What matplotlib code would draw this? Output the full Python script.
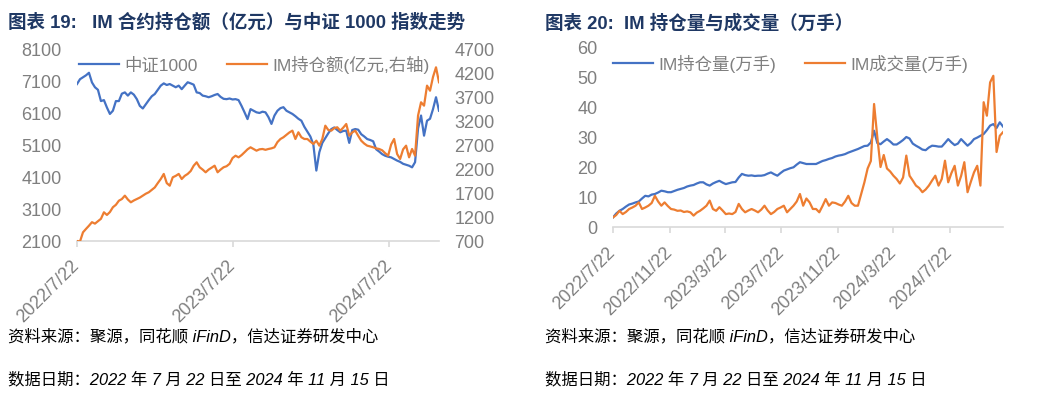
import matplotlib
matplotlib.use("Agg")
import matplotlib.pyplot as plt
import pandas as pd

plt.rcParams['font.family'] = ['Liberation Sans', 'Noto Sans CJK SC', 'DejaVu Sans']

# weekly samples, 2022-07-22 .. 2024-11-15
dates = pd.date_range("2022-07-22", "2024-11-15", freq="7D")

csi1000 = [6980, 7130, 7190, 7250, 7330, 7030, 6880, 6800, 6450, 6480,
           6250, 6050, 6150, 6450, 6450, 6680, 6720, 6620, 6720, 6650,
           6510, 6300, 6220, 6350, 6480, 6600, 6670, 6800, 6930, 7000,
           6950, 6980, 6930, 6880, 6930, 6820, 6930, 7035, 7000, 6960,
           6720, 6700, 6620, 6600, 6570, 6600, 6640, 6670, 6580, 6520,
           6510, 6530, 6500, 6510, 6480, 6300, 6100, 5890, 6200, 6150,
           6100, 6080, 6120, 6100, 5950, 5740, 6000, 6150, 6230, 6260,
           6150, 6100, 6050, 5980, 5900, 5840, 5650, 5500, 5350, 5100,
           4290, 4860, 5150, 5300, 5450, 5580, 5630, 5550, 5480, 5520,
           5530, 5150, 5550, 5580, 5560, 5420, 5350, 5270, 5240, 5200,
           4950, 4880, 4800, 4750, 4720, 4700, 4650, 4600, 4560, 4500,
           4470, 4440, 4390, 4550, 5600, 6000, 5375, 5840, 5900, 6200,
           6570, 6150]

im_oi_value = [700, 690, 880, 950, 1017, 1090, 1060, 1110, 1160, 1295,
               1240, 1300, 1400, 1450, 1535, 1570, 1640, 1560, 1502, 1540,
               1570, 1600, 1640, 1680, 1710, 1760, 1810, 1900, 1985, 2090,
               1900, 1846, 2020, 2050, 2090, 1985, 2050, 2090, 2150, 2260,
               2331, 2228, 2180, 2124, 2180, 2220, 2261, 2124, 2180, 2228,
               2250, 2300, 2420, 2468, 2434, 2480, 2539, 2600, 2642, 2607,
               2572, 2600, 2607, 2590, 2607, 2620, 2642, 2750, 2814, 2850,
               2900, 2950, 2987, 2814, 2953, 2850, 2814, 2814, 2760, 2711,
               2779, 2676, 2814, 3090, 3000, 2987, 3040, 3057, 2987, 3050,
               3125, 2883, 2950, 2987, 2880, 2779, 2720, 2676, 2660, 2642,
               2620, 2607, 2580, 2520, 2468, 2700, 2814, 2503, 2400, 2600,
               2676, 2434, 2607, 2468, 3300, 3575, 3505, 3920, 3815, 4100,
               4300, 3990]

im_oi_lots = [3.2, 4.5, 5.4, 6.0, 6.8, 7.5, 7.8, 8.2, 8.5, 9.5,
              10.4, 10.2, 10.8, 11.0, 11.5, 12.1, 11.9, 11.6, 11.6, 12.0,
              12.4, 12.7, 13.0, 13.5, 13.8, 14.0, 14.5, 14.9, 14.9, 14.2,
              13.8, 14.5, 15.0, 15.4, 14.8, 14.3, 14.6, 14.9, 15.0, 16.5,
              17.7, 17.3, 17.1, 17.2, 17.0, 17.1, 17.1, 17.3, 17.8, 18.2,
              17.6, 17.1, 18.0, 18.8, 19.2, 19.6, 19.9, 20.8, 21.6, 21.3,
              21.0, 21.0, 21.0, 21.0, 21.5, 22.0, 22.3, 22.7, 23.0, 23.5,
              23.8, 24.0, 24.3, 24.8, 25.2, 25.6, 26.0, 26.5, 27.0, 27.1,
              28.2, 32.1, 28.0, 27.6, 28.5, 29.3, 28.5, 27.5, 27.5, 28.2,
              29.0, 30.0, 29.5, 27.8, 27.1, 26.5, 25.8, 25.6, 26.5, 27.1,
              27.0, 26.8, 26.8, 28.0, 29.3, 28.2, 27.3, 27.8, 29.3, 28.2,
              27.1, 28.0, 29.3, 29.8, 30.4, 31.0, 32.3, 33.8, 34.3, 33.0,
              34.9, 33.5]

im_volume = [3.2, 4.0, 5.4, 4.3, 5.0, 6.0, 6.5, 7.1, 8.2, 6.0,
             6.5, 7.1, 8.0, 10.4, 8.5, 7.1, 8.2, 7.0, 6.0, 5.8,
             5.4, 5.5, 5.0, 5.2, 4.9, 3.8, 4.8, 5.4, 6.2, 7.1,
             8.8, 6.0, 5.4, 6.6, 5.5, 4.3, 4.5, 4.3, 5.0, 7.7,
             6.0, 4.9, 5.5, 6.0, 5.5, 4.9, 5.8, 7.1, 5.5, 4.3,
             5.0, 6.0, 6.5, 7.1, 4.9, 6.0, 7.1, 8.5, 11.0, 7.1,
             9.5, 8.2, 6.0, 6.0, 4.9, 7.0, 9.3, 7.1, 8.2, 8.0,
             7.5, 7.1, 8.5, 10.4, 8.0, 7.1, 7.1, 11.0, 14.9, 19.5,
             22.0, 41.0, 30.0, 20.0, 24.0, 19.5, 18.5, 17.1, 16.0, 14.5,
             16.5, 23.8, 17.1, 15.5, 13.8, 13.0, 11.6, 12.5, 13.8, 15.5,
             17.1, 13.8, 16.0, 22.1, 14.9, 18.0, 20.4, 13.8, 17.0, 21.6,
             11.6, 15.0, 18.2, 20.4, 13.8, 41.6, 37.1, 48.2, 50.4, 25.0,
             30.4, 31.6]

left_xticks = ["2022-07-22", "2023-07-22", "2024-07-22"]
right_xticks = ["2022-07-22", "2022-11-22", "2023-03-22", "2023-07-22",
                "2023-11-22", "2024-03-22", "2024-07-22"]
left_yticks = list(range(2100, 8101, 1000))
left_y2ticks = list(range(700, 4701, 500))
right_yticks = list(range(0, 61, 10))

BLUE = "#4472C4"
ORANGE = "#ED7D31"
GRAY = "#7F7F7F"
NAVY = "#1F3864"
AXIS = "#D9D9D9"


def fmt_date(s):
    d = pd.Timestamp(s)
    return f"{d.year}/{d.month}/{d.day}"


def style_axis(ax, ticks, pad):
    for side in ["top", "left", "right"]:
        ax.spines[side].set_visible(False)
    ax.spines["bottom"].set_color(AXIS)
    ax.spines["bottom"].set_linewidth(1.2)
    ax.set_xticks(pd.to_datetime(ticks))
    ax.set_xticklabels([fmt_date(t) for t in ticks], rotation=45,
                       ha="right", va="center", rotation_mode="anchor")
    ax.tick_params(axis="x", colors=AXIS, labelcolor=GRAY, labelsize=13,
                   length=4, width=1.2, pad=pad)
    ax.tick_params(axis="y", length=0, labelcolor=GRAY, labelsize=13, pad=11)
    ax.set_xlim(dates[0], dates[-1])


fig = plt.figure(figsize=(10.56, 4.06), dpi=100)

# left chart
ax1 = fig.add_axes([77 / 1056, 1 - 242 / 406, 362 / 1056, 193 / 406])
ax2 = ax1.twinx()
l1, = ax1.plot(dates, csi1000, color=BLUE, lw=1.6, label="中证1000")
l2, = ax2.plot(dates, im_oi_value, color=ORANGE, lw=1.6,
               label="IM持仓额(亿元,右轴)")
style_axis(ax1, left_xticks, pad=11)
for side in ["top", "left", "right", "bottom"]:
    ax2.spines[side].set_visible(False)
ax1.set_ylim(2100, 8100)
ax1.set_yticks(left_yticks)
ax2.set_ylim(700, 4700)
ax2.set_yticks(left_y2ticks)
ax2.tick_params(axis="y", length=0, labelcolor=GRAY, labelsize=13, pad=11)
ax1.legend(handles=[l1, l2], loc="upper center", bbox_to_anchor=(0.49, 1.0),
           ncol=2, frameon=False, fontsize=12.5, labelcolor=GRAY,
           handlelength=2.3, columnspacing=1.7, handletextpad=0.3,
           borderaxespad=0.0)

# right chart
ax3 = fig.add_axes([613 / 1056, 1 - 228 / 406, 390 / 1056, 180 / 406])
l3, = ax3.plot(dates, im_oi_lots, color=BLUE, lw=1.6, label="IM持仓量(万手)")
l4, = ax3.plot(dates, im_volume, color=ORANGE, lw=1.6, label="IM成交量(万手)")
style_axis(ax3, right_xticks, pad=12)
ax3.set_ylim(0, 60)
ax3.set_yticks(right_yticks)
ax3.legend(handles=[l3, l4], loc="upper center", bbox_to_anchor=(0.455, 1.0),
           ncol=2, frameon=False, fontsize=12.5, labelcolor=GRAY,
           handlelength=2.3, columnspacing=1.7, handletextpad=0.3,
           borderaxespad=0.0)

# titles
title_font = ['Liberation Sans', 'Noto Sans CJK SC']
fig.text(8 / 1056, 1 - 23 / 406, "图表 19:   IM 合约持仓额（亿元）与中证 1000 指数走势",
         fontsize=13.3, fontweight="bold", color=NAVY, family=title_font,
         va="center", ha="left")
fig.text(545 / 1056, 1 - 23 / 406, "图表 20:  IM 持仓量与成交量（万手）",
         fontsize=13.3, fontweight="bold", color=NAVY, family=title_font,
         va="center", ha="left")

# notes
for x0 in [8, 545]:
    fig.text(x0 / 1056, 1 - 337 / 406, "资料来源：聚源，同花顺 iFinD，信达证券研发中心",
             fontsize=11.8, style="italic", color="black", family=title_font,
             va="center", ha="left")
    fig.text(x0 / 1056, 1 - 380 / 406, "数据日期：2022 年 7 月 22 日至 2024 年 11 月 15 日",
             fontsize=11.8, style="italic", color="black", family=title_font,
             va="center", ha="left")

fig.savefig("out.png", dpi=100)
